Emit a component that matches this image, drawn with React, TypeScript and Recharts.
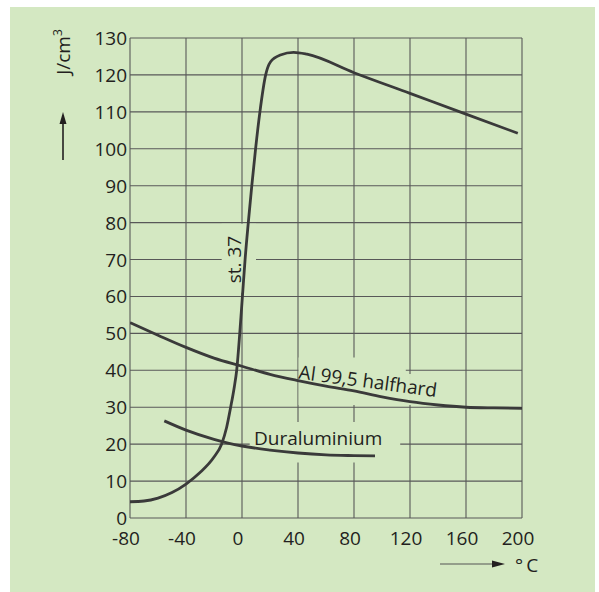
import React from "react";
import {
  LineChart,
  Line,
  XAxis,
  YAxis,
  CartesianGrid,
  ReferenceArea,
  ReferenceDot,
  Label,
} from "recharts";

const xTicks = [-80, -40, 0, 40, 80, 120, 160, 200];
const yTicks = [0, 10, 20, 30, 40, 50, 60, 70, 80, 90, 100, 110, 120, 130];

// st. 37
const steelTemp = [
  -80, -70, -60, -50, -40, -30, -20, -14.6, -11, -8.1, -5.5, -3.8, -1.6, 0.3,
  2.2, 4.5, 7, 9.7, 12.8, 16.9, 20.3, 27.4, 36.9, 46.4, 80, 120, 160, 197,
];
const steelEnergy = [
  4.4, 4.6, 5.4, 6.9, 9.2, 12.3, 16.5, 20, 24.5, 30, 35.5, 40, 50, 60, 70, 80,
  90, 100, 110, 120, 123.5, 125.4, 126.1, 125.6, 120.6, 115, 109.4, 104.2,
];

// Al 99,5 halfhard
const alTemp = [-80, -60, -40, -20, 0, 20, 40, 60, 80, 100, 120, 140, 160, 180, 200];
const alEnergy = [52.9, 49.5, 46.2, 43.3, 41.1, 38.9, 37.2, 35.7, 34.4, 32.8, 31.5, 30.6, 30, 29.8, 29.7];

// Duraluminium
const duralTemp = [-55.5, -40, -20, -10, 0, 20, 40, 60, 80, 95];
const duralEnergy = [26.3, 23.8, 21.3, 20.3, 19.5, 18.4, 17.6, 17.1, 16.9, 16.8];

const toRows = (ts: number[], vs: number[]) => ts.map((t, i) => ({ t, v: vs[i] }));

const steel = toRows(steelTemp, steelEnergy);
const al = toRows(alTemp, alEnergy);
const dural = toRows(duralTemp, duralEnergy);

const BG = "#d4e8c2";
const INK = "#231f20";
const CURVE = "#3a3a3a";
const GRID = "#585858";
const FONT = "'Open Sans', sans-serif";
const FS = 19;

const XTick = ({ x, y, payload }: any) => (
  <text x={x - 4} y={y + 27} textAnchor="middle" fontSize={FS} fontFamily={FONT} fill={INK}>
    {payload.value}
  </text>
);

const YTick = ({ x, y, payload }: any) => (
  <text x={x - 3} y={y + 7} textAnchor="end" fontSize={FS} fontFamily={FONT} fill={INK}>
    {payload.value}
  </text>
);

const YTitle = ({ viewBox }: any) => {
  const bx = viewBox.x - 10;
  const cy = viewBox.y + 14;
  const ax = viewBox.x - 17;
  const tip = viewBox.y + 74;
  return (
    <g>
      <text
        x={bx}
        y={cy}
        transform={`rotate(-90 ${bx} ${cy})`}
        textAnchor="middle"
        fontSize={FS}
        fontFamily={FONT}
        fill={INK}
      >
        J/cm
        <tspan fontSize={12} dy={-8}>3</tspan>
      </text>
      <line x1={ax} x2={ax} y1={tip + 8} y2={tip + 48} stroke={INK} strokeWidth={1.6} />
      <polygon points={`${ax},${tip} ${ax - 3.5},${tip + 12} ${ax + 3.5},${tip + 12}`} fill={INK} />
    </g>
  );
};

const XTitle = ({ viewBox }: any) => {
  const right = viewBox.x + viewBox.width;
  const y = viewBox.y + 46;
  return (
    <g>
      <line x1={right - 82} x2={right - 28} y1={y} y2={y} stroke="#555" strokeWidth={1.2} />
      <polygon points={`${right - 17},${y} ${right - 30},${y - 3.5} ${right - 30},${y + 3.5}`} fill={INK} />
      <text x={right - 7} y={y + 8} fontSize={FS} fontFamily={FONT} fill={INK}>
        °<tspan dx={3}>C</tspan>
      </text>
    </g>
  );
};

const textLabel = (txt: string, angle: number) => (p: any) => (
  <text
    x={p.cx}
    y={p.cy}
    dy="0.36em"
    transform={`rotate(${angle} ${p.cx} ${p.cy})`}
    textAnchor="middle"
    fontSize={FS}
    fontFamily={FONT}
    fill={INK}
  >
    {txt}
  </text>
);

export default function App() {
  return (
    <div style={{ position: "absolute", left: 10, top: 7, width: 585, height: 585, background: BG }}>
      <LineChart width={585} height={585} margin={{ top: 31, right: 73, bottom: 34, left: 70 }}>
        <CartesianGrid stroke={GRID} strokeWidth={1.1} />
        <XAxis
          type="number"
          dataKey="t"
          domain={[-80, 200]}
          ticks={xTicks}
          interval={0}
          height={40}
          tickLine={false}
          axisLine={false}
          tickSize={0}
          tickMargin={0}
          tick={<XTick />}
          allowDataOverflow
        >
          <Label content={<XTitle />} />
        </XAxis>
        <YAxis
          type="number"
          domain={[0, 130]}
          ticks={yTicks}
          interval={0}
          width={50}
          tickLine={false}
          axisLine={false}
          tickSize={0}
          tickMargin={0}
          tick={<YTick />}
          allowDataOverflow
        >
          <Label content={<YTitle />} />
        </YAxis>

        {/* gaps in the grid behind the curve labels */}
        <ReferenceArea x1={-14.5} x2={10} y1={61} y2={79.7} fill={BG} fillOpacity={1} stroke="none" />
        <ReferenceArea x1={40.4} x2={117} y1={30.6} y2={43.5} fill={BG} fillOpacity={1} stroke="none" />
        <ReferenceArea x1={119.3} x2={120.7} y1={30.6} y2={39} fill={BG} fillOpacity={1} stroke="none" />
        <ReferenceArea x1={5.5} x2={113} y1={15} y2={26} fill={BG} fillOpacity={1} stroke="none" />

        <Line data={steel} dataKey="v" type="monotone" stroke={CURVE} strokeWidth={2.8} dot={false} isAnimationActive={false} />
        <Line data={al} dataKey="v" type="monotone" stroke={CURVE} strokeWidth={2.8} dot={false} isAnimationActive={false} />
        <Line data={dural} dataKey="v" type="monotone" stroke={CURVE} strokeWidth={2.8} dot={false} isAnimationActive={false} />

        <ReferenceDot x={-5.5} y={70} r={1} shape={textLabel("st. 37", -90)} />
        <ReferenceDot x={90} y={37.1} r={1} shape={textLabel("Al 99,5 halfhard", 7.6)} />
        <ReferenceDot x={54.4} y={21.6} r={1} shape={textLabel("Duraluminium", 0)} />
      </LineChart>
    </div>
  );
}
